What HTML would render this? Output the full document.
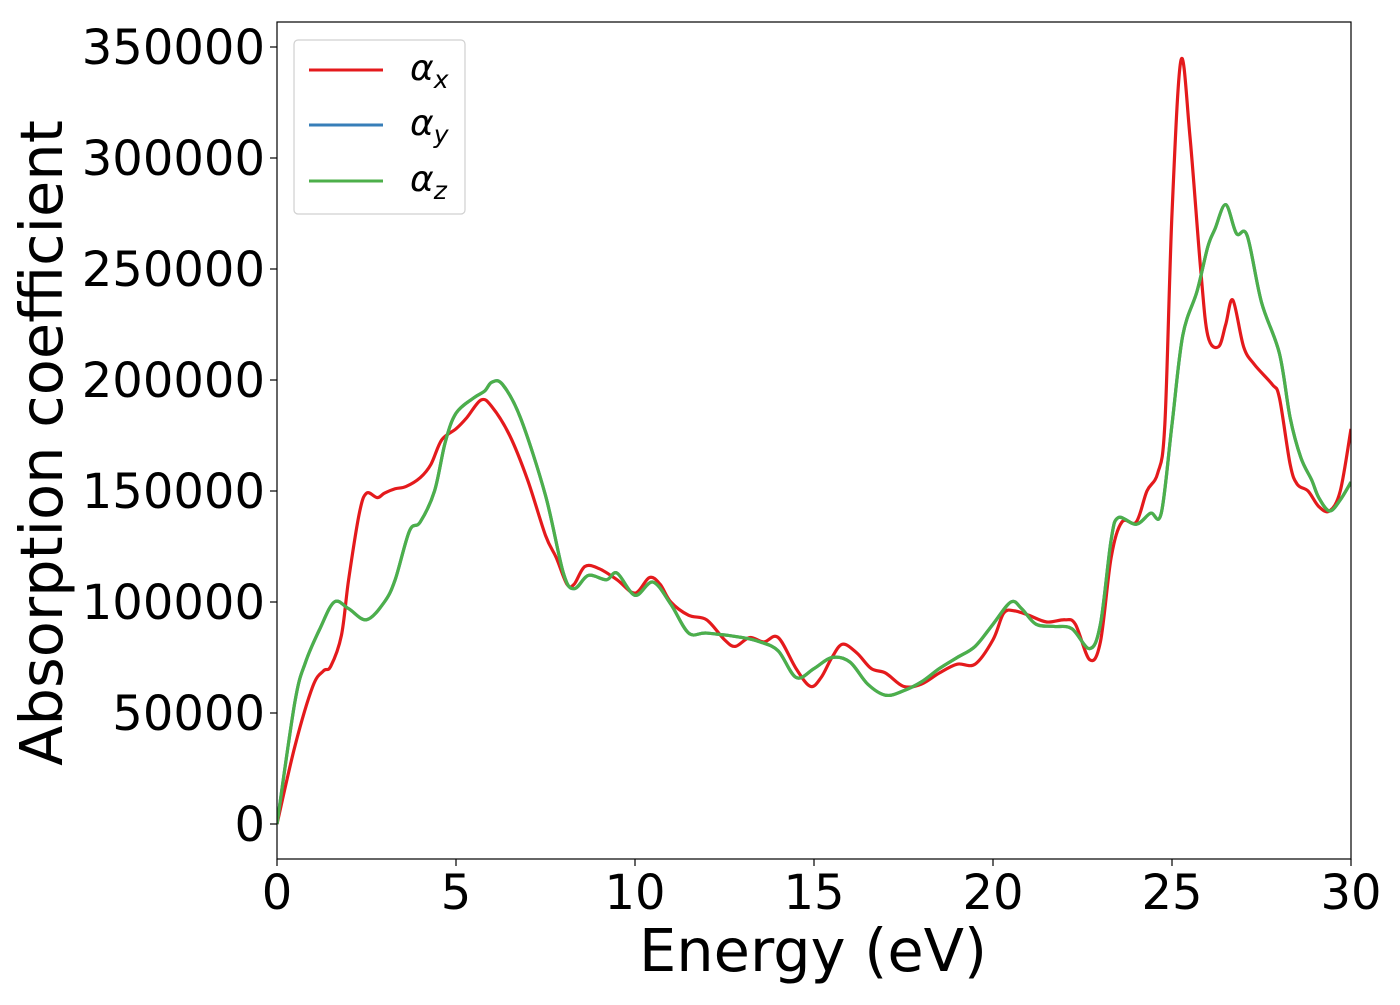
<!DOCTYPE html>
<html><head><meta charset="utf-8"><style>
body{margin:0;background:#fff}
text{font-family:"DejaVu Sans","Liberation Sans",sans-serif}
</style></head><body>
<svg id="chart" width="1400" height="1000" xmlns="http://www.w3.org/2000/svg">
<rect width="1400" height="1000" fill="#fff"/>
<g id="plot"></g>
</svg>
<script>
const redE=[0,0.5,1.0,1.3,1.5,1.8,2.0,2.3,2.5,2.8,3.0,3.3,3.6,4.0,4.3,4.6,5.0,5.3,5.7,6.0,6.5,7.0,7.5,7.8,8.1,8.3,8.6,9.0,9.5,10.0,10.4,10.7,11.0,11.5,12.0,12.5,12.8,13.2,13.6,14.0,14.5,14.9,15.2,15.5,15.8,16.2,16.6,17.0,17.5,18.0,18.5,19.0,19.5,20.0,20.3,20.6,21.0,21.5,22.0,22.3,22.7,23.0,23.3,23.6,24.0,24.3,24.6,24.8,25.0,25.25,25.5,25.8,26.0,26.3,26.5,26.7,27.0,27.3,27.8,28.0,28.3,28.5,28.8,29.1,29.4,29.7,30.0];
const redA=[0,35000,62000,69000,71000,85000,110000,140000,149000,147000,149000,151000,152000,156000,162000,173000,178000,183000,191000,188000,175000,155000,130000,120000,108000,108000,116000,115000,110000,104000,111000,108000,100000,94000,92000,83000,80000,84000,82000,84000,70000,62000,66000,75000,81000,77000,70000,68000,62000,63000,68000,72000,72000,83000,95000,96000,94000,91000,92000,90000,74000,82000,120000,136000,136000,150000,158000,180000,275000,344000,310000,250000,220000,215000,225000,236000,215000,207000,198000,192000,162000,153000,150000,143000,141000,150000,178000];
const greenE=[0,0.5,0.8,1.2,1.6,2.0,2.5,3.0,3.3,3.7,4.0,4.4,4.7,5.0,5.5,5.8,6.0,6.3,6.8,7.5,8.0,8.3,8.7,9.2,9.5,10.0,10.5,11.0,11.5,12.0,13.0,13.5,14.0,14.5,15.0,15.5,16.0,16.5,17.0,17.5,18.0,18.5,19.0,19.5,20.0,20.5,20.8,21.2,21.7,22.2,22.7,23.0,23.3,23.5,24.0,24.4,24.7,25.0,25.3,25.7,26.0,26.2,26.5,26.8,27.1,27.5,28.0,28.3,28.6,28.9,29.1,29.4,29.7,30.0];
const greenA=[0,55000,73000,88000,100000,97000,92000,100000,110000,132000,136000,150000,172000,185000,192000,195000,199000,198000,183000,148000,113000,106000,112000,110000,113000,103000,109000,99000,86000,86000,84000,82000,78000,66000,70000,75000,73000,63000,58000,60000,64000,70000,75000,80000,90000,100000,97000,90000,89000,88000,79000,90000,128000,138000,135000,140000,140000,180000,220000,240000,260000,268000,279000,266000,265000,235000,212000,183000,165000,155000,147000,141000,146000,154000];
const blueE=greenE.slice();
const blueA=greenA.slice();
const xTicks=[0,5,10,15,20,25,30];
const yTicks=[0,50000,100000,150000,200000,250000,300000,350000];

const L=277,R=1351,T=22,B=859;
const xs=v=>L+(v-0)/30*(R-L);
const ys=v=>824-v*(777/350000);
const NS="http://www.w3.org/2000/svg";
const g=document.getElementById('plot');
function mk(tag,attrs){const e=document.createElementNS(NS,tag);for(const k in attrs)e.setAttribute(k,attrs[k]);g.appendChild(e);return e;}
function pathFor(E,A){
  const p=E.map((e,i)=>[xs(e),ys(A[i])]);
  let d='M'+p[0][0]+','+p[0][1];
  for(let i=0;i<p.length-1;i++){
    const p0=p[Math.max(i-1,0)],p1=p[i],p2=p[i+1],p3=p[Math.min(i+2,p.length-1)];
    const c1=[p1[0]+(p2[0]-p0[0])/6,p1[1]+(p2[1]-p0[1])/6];
    const c2=[p2[0]-(p3[0]-p1[0])/6,p2[1]-(p3[1]-p1[1])/6];
    d+=' C'+c1[0]+','+c1[1]+' '+c2[0]+','+c2[1]+' '+p2[0]+','+p2[1];
  }
  return d;
}
const cp=document.createElementNS(NS,'clipPath');cp.setAttribute('id','clip');
const cr=document.createElementNS(NS,'rect');cr.setAttribute('x',L);cr.setAttribute('y',T);cr.setAttribute('width',R-L);cr.setAttribute('height',B-T);
cp.appendChild(cr);g.appendChild(cp);
let e;
e=mk('path',{d:pathFor(redE,redA),fill:'none',stroke:'#e41a1c','stroke-width':3.2,'clip-path':'url(#clip)'});


e=mk('path',{d:pathFor(blueE,blueA),fill:'none',stroke:'#377eb8','stroke-width':3.2,'clip-path':'url(#clip)'});


e=mk('path',{d:pathFor(greenE,greenA),fill:'none',stroke:'#4daf4a','stroke-width':3.2,'clip-path':'url(#clip)'});


e=mk('rect',{x:L,y:T,width:R-L,height:B-T,fill:'none',stroke:'#000','stroke-width':1.2});


xTicks.forEach(t=>{
  mk('line',{x1:xs(t),x2:xs(t),y1:B,y2:B+7,stroke:'#000','stroke-width':1.2});
  const tx=mk('text',{x:xs(t),y:B+50,'font-size':48,'text-anchor':'middle'});tx.textContent=t;
  
  
});
yTicks.forEach(t=>{
  mk('line',{x1:L-7,x2:L,y1:ys(t),y2:ys(t),stroke:'#000','stroke-width':1.2});
  const tx=mk('text',{x:L-12,y:ys(t)+17,'font-size':48,'text-anchor':'end'});tx.textContent=t;
  
  
});
e=mk('text',{x:813,y:971,'font-size':59,'text-anchor':'middle'});e.textContent='Energy (eV)';


e=mk('text',{x:0,y:0,'font-size':59,'text-anchor':'middle',transform:'translate(62,443) rotate(-90)'});e.textContent='Absorption coefficient';


e=mk('rect',{x:294,y:40,width:171,height:174,rx:4,fill:'#fff',stroke:'#ccc','stroke-width':1.2,opacity:0.9});


[['x','#e41a1c',70],['y','#377eb8',125],['z','#4daf4a',181]].forEach(([s,c,y])=>{
  const ln=mk('line',{x1:309,x2:383,y1:y,y2:y,stroke:c,'stroke-width':3});
  
  
  const tx=mk('text',{x:410,y:y+10,'font-size':36,'font-style':'italic'});
  tx.innerHTML='α<tspan font-size="25" dy="8">'+s+'</tspan>';
  
  
});
</script>
</body></html>
